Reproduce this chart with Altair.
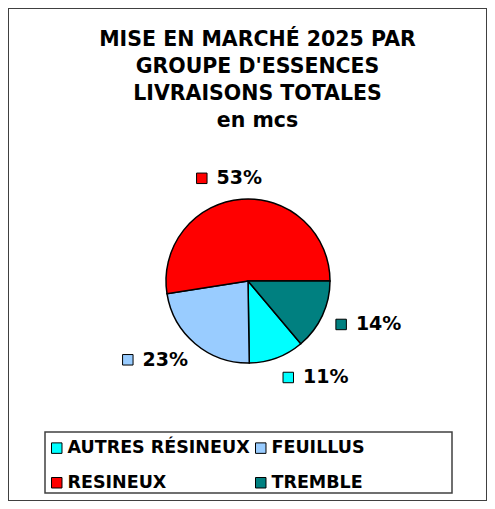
import altair as alt
import pandas as pd

groups = ["AUTRES RÉSINEUX", "FEUILLUS", "RESINEUX", "TREMBLE"]
values = [11, 23, 53, 14]
colors = ["#00FFFF", "#99CCFF", "#FF0000", "#008080"]
order = [2, 3, 4, 1]  # clockwise from 3 o'clock

title_lines = ["MISE EN MARCHÉ 2025 PAR", "GROUPE D'ESSENCES", "LIVRAISONS  TOTALES", "en mcs"]

df = pd.DataFrame({"group": groups, "value": values, "ord": order})

FONT = "DejaVu Sans"
W, H = 479, 493
xs = alt.Scale(domain=[-240, 239])
ys = alt.Scale(domain=[-220, 273])
color = alt.Color(
    "group:N",
    scale=alt.Scale(domain=groups, range=colors),
    legend=alt.Legend(
        title=None, orient="none", legendX=40, legendY=431, columns=2,
        direction="horizontal",
        columnPadding=2, rowPadding=16, symbolType="square", symbolSize=110,
        symbolStrokeColor="black", symbolStrokeWidth=1, symbolOpacity=1,
        labelFont=FONT, labelFontWeight="bold", labelFontSize=17.5,
        labelColor="black", labelOffset=2, labelLimit=300, padding=0,
    ),
)

base = alt.Chart(df)

pie = base.mark_arc(radius=82, stroke="black", strokeWidth=1.5).encode(
    theta=alt.Theta("value:Q", stack=True, scale=alt.Scale(range=[1.5708, 7.8540])),
    order=alt.Order("ord:Q"),
    color=color,
    x=alt.datum(0, type="quantitative", scale=xs, axis=None),
    y=alt.datum(0, type="quantitative", scale=ys, axis=None),
)

lab = base.transform_window(
    cum="sum(value)", sort=[alt.SortField("ord")], frame=[None, 0]
).transform_joinaggregate(total="sum(value)").transform_calculate(
    mid="PI/2 + 2*PI*(datum.cum - datum.value/2)/datum.total"
).transform_calculate(
    lx="95*sin(datum.mid) + 33*clamp(5*sin(datum.mid), -1, 1)",
    ly="103*cos(datum.mid)",
    txt="datum.value + '%'",
).transform_calculate(
    sqx="datum.lx - 26", tx="datum.lx + 11.5"
)

squares = lab.mark_square(size=110, stroke="black", strokeWidth=1, opacity=1).encode(
    x=alt.X("sqx:Q", scale=xs, axis=None),
    y=alt.Y("ly:Q", scale=ys, axis=None),
    fill=alt.Fill("group:N", scale=alt.Scale(domain=groups, range=colors), legend=None),
)

texts = lab.mark_text(font=FONT, fontWeight="bold", fontSize=19, color="black",
                      align="center", baseline="middle").encode(
    x=alt.X("tx:Q", scale=xs, axis=None),
    y=alt.Y("ly:Q", scale=ys, axis=None),
    text="txt:N",
)

box = alt.Chart(alt.Data(values=[{}])).mark_rect(
    fill=None, stroke="#404040", strokeWidth=1.5
).encode(x=alt.value(37), x2=alt.value(444), y=alt.value(424), y2=alt.value(485))

chart = alt.layer(pie, squares, texts, box).properties(
    width=W, height=H, padding=0, autosize="none",
    title=alt.TitleParams(
        text=title_lines, font=FONT, fontWeight="bold", fontSize=20.5,
        lineHeight=27, offset=-143, anchor="middle", dx=10, color="black",
        baseline="bottom",
    ),
).configure_view(stroke="#404040", strokeWidth=2)

chart.save("out.html", embed_options={"renderer": "svg", "actions": False})
